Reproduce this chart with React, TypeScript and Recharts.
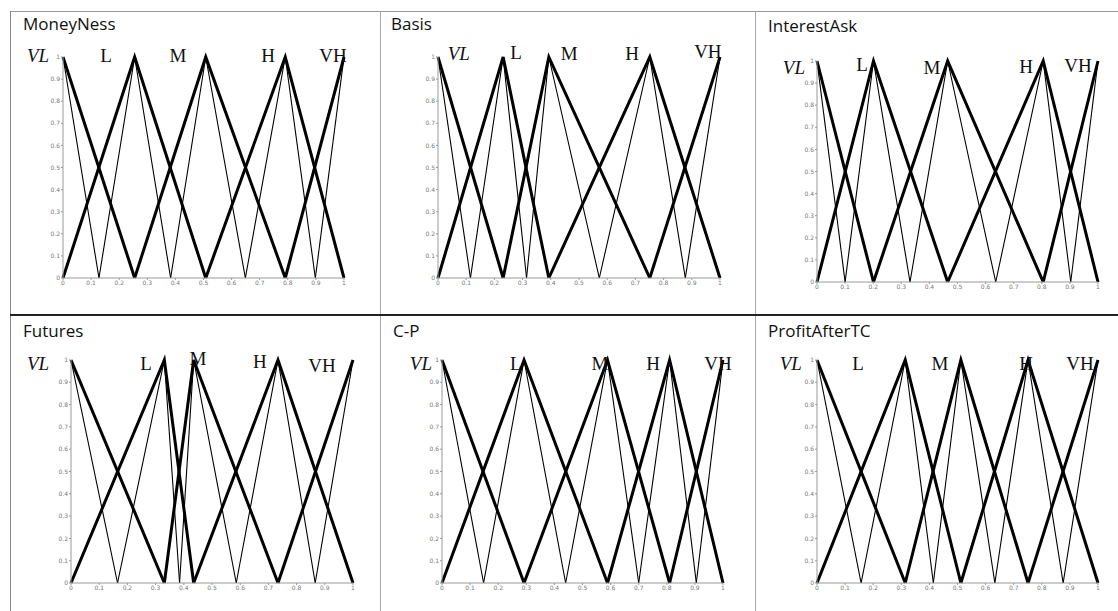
import React from "react";
import { LineChart, Line, XAxis, YAxis } from "recharts";

// ---- data ----
const titles = ["MoneyNess", "Basis", "InterestAsk", "Futures", "C-P", "ProfitAfterTC"];
const termLabels = ["VL", "L", "M", "H", "VH"];
// peak positions of the wide (thick) triangles: VL, L, M, H, VH
const peaksMoneyNess = [0, 0.255, 0.508, 0.791, 1];
const peaksBasis = [0, 0.231, 0.393, 0.751, 1];
const peaksInterestAsk = [0, 0.201, 0.465, 0.805, 1];
const peaksFutures = [0, 0.331, 0.435, 0.734, 1];
const peaksCP = [0, 0.292, 0.589, 0.81, 1];
const peaksProfit = [0, 0.314, 0.512, 0.751, 1];
// feet of the narrow (thin) triangles
const feetMoneyNess = [0.128, 0.383, 0.649, 0.898];
const feetBasis = [0.115, 0.314, 0.572, 0.877];
const feetInterestAsk = [0.1, 0.331, 0.636, 0.903];
const feetFutures = [0.165, 0.385, 0.586, 0.866];
const feetCP = [0.148, 0.44, 0.7, 0.905];
const feetProfit = [0.157, 0.414, 0.633, 0.876];
const xTicks = [0, 0.1, 0.2, 0.3, 0.4, 0.5, 0.6, 0.7, 0.8, 0.9, 1];
const yTicks = [0, 0.1, 0.2, 0.3, 0.4, 0.5, 0.6, 0.7, 0.8, 0.9, 1];

const allPeaks = [peaksMoneyNess, peaksBasis, peaksInterestAsk, peaksFutures, peaksCP, peaksProfit];
const allFeet = [feetMoneyNess, feetBasis, feetInterestAsk, feetFutures, feetCP, feetProfit];

// ---- layout ----
const plotBoxes = [
  { x: 63, y: 57, w: 281, h: 221 },
  { x: 438, y: 57, w: 282, h: 221 },
  { x: 817, y: 61, w: 281, h: 221 },
  { x: 71, y: 360, w: 282, h: 223 },
  { x: 442, y: 360, w: 281, h: 223 },
  { x: 817, y: 360, w: 281, h: 223 },
];
const titlePos = [
  { x: 23, capTop: 18 },
  { x: 391, capTop: 18 },
  { x: 768, capTop: 20 },
  { x: 23, capTop: 325 },
  { x: 393, capTop: 325 },
  { x: 768, capTop: 325 },
];
const labelFrac = [
  [-0.089, 0.153, 0.409, 0.73, 0.961],
  [0.074, 0.277, 0.465, 0.688, 0.957],
  [-0.082, 0.16, 0.409, 0.744, 0.929],
  [-0.117, 0.266, 0.45, 0.67, 0.89],
  [-0.075, 0.263, 0.562, 0.751, 0.982],
  [-0.093, 0.146, 0.438, 0.744, 0.936],
];
const labelCapTop = [
  [49, 49, 49, 49, 49],
  [47, 46, 47, 47, 45],
  [61, 58, 61, 60, 59],
  [357, 357, 352, 355, 359],
  [357, 357, 357, 357, 357],
  [357, 357, 357, 357, 357],
];

type Pt = { x: number; y: number };

function buildSeries(p: number[], f: number[]) {
  const thick: Pt[][] = [
    [{ x: p[0], y: 1 }, { x: p[1], y: 0 }],
    [{ x: p[0], y: 0 }, { x: p[1], y: 1 }, { x: p[2], y: 0 }],
    [{ x: p[1], y: 0 }, { x: p[2], y: 1 }, { x: p[3], y: 0 }],
    [{ x: p[2], y: 0 }, { x: p[3], y: 1 }, { x: p[4], y: 0 }],
    [{ x: p[3], y: 0 }, { x: p[4], y: 1 }],
  ];
  const thin: Pt[][] = [
    [{ x: p[0], y: 1 }, { x: f[0], y: 0 }],
    [{ x: f[0], y: 0 }, { x: p[1], y: 1 }, { x: f[1], y: 0 }],
    [{ x: f[1], y: 0 }, { x: p[2], y: 1 }, { x: f[2], y: 0 }],
    [{ x: f[2], y: 0 }, { x: p[3], y: 1 }, { x: f[3], y: 0 }],
    [{ x: f[3], y: 0 }, { x: p[4], y: 1 }],
  ];
  return { thick, thin };
}

const ML = 10, YW = 20, MT = 10, MB = 5, XH = 15, MR = 10;

function Panel({ i }: { i: number }) {
  const box = plotBoxes[i];
  const { thick, thin } = buildSeries(allPeaks[i], allFeet[i]);
  const width = box.w + ML + YW + MR;
  const height = box.h + MT + MB + XH;
  const tickStyle = { fontSize: 6, fill: "#777", fontFamily: "DejaVu Sans" };
  return (
    <div style={{ position: "absolute", left: box.x - ML - YW, top: box.y - MT }}>
      <LineChart width={width} height={height} margin={{ top: MT, right: MR, left: ML, bottom: MB }}>
        <XAxis
          type="number"
          dataKey="x"
          domain={[0, 1]}
          ticks={xTicks}
          height={XH}
          tick={tickStyle}
          tickSize={2}
          tickMargin={1}
          axisLine={{ stroke: "#999", strokeWidth: 1 }}
          tickLine={{ stroke: "#999" }}
          allowDecimals
          interval={0}
        />
        <YAxis
          type="number"
          dataKey="y"
          domain={[0, 1]}
          ticks={yTicks}
          width={YW}
          tick={tickStyle}
          tickSize={2}
          tickMargin={1}
          axisLine={{ stroke: "#999", strokeWidth: 1 }}
          tickLine={{ stroke: "#999" }}
          interval={0}
        />
        {thin.map((d, k) => (
          <Line
            key={"thin" + k}
            data={d}
            dataKey="y"
            type="linear"
            stroke="#000"
            strokeWidth={1.1}
            dot={false}
            activeDot={false}
            isAnimationActive={false}
          />
        ))}
        {thick.map((d, k) => (
          <Line
            key={"thick" + k}
            data={d}
            dataKey="y"
            type="linear"
            stroke="#000"
            strokeWidth={3}
            dot={false}
            activeDot={false}
            isAnimationActive={false}
          />
        ))}
      </LineChart>
    </div>
  );
}

export default function App() {
  return (
    <div style={{ position: "fixed", left: 0, top: 0, width: 1118, height: 611, background: "#fff", overflow: "hidden" }}>
      {/* table borders */}
      <div style={{ position: "absolute", left: 10, top: 11, width: 1108, height: 1, background: "#9a9a9a" }} />
      <div style={{ position: "absolute", left: 10, top: 11, width: 1, height: 600, background: "#888" }} />
      <div style={{ position: "absolute", left: 380, top: 11, width: 1, height: 600, background: "#aaa" }} />
      <div style={{ position: "absolute", left: 755, top: 11, width: 1, height: 600, background: "#aaa" }} />
      <div style={{ position: "absolute", left: 10, top: 314, width: 1108, height: 2, background: "#222" }} />
      {titles.map((t, i) => (
        <div
          key={t}
          style={{
            position: "absolute",
            left: titlePos[i].x,
            top: titlePos[i].capTop - 3,
            fontFamily: "'Open Sans', sans-serif",
            fontSize: 17,
            lineHeight: "17px",
            color: "#111",
            whiteSpace: "nowrap",
          }}
        >
          {t}
        </div>
      ))}
      {plotBoxes.map((_, i) => (
        <Panel key={i} i={i} />
      ))}
      {plotBoxes.map((box, i) =>
        termLabels.map((lab, k) => (
          <div
            key={i + "-" + lab}
            style={{
              position: "absolute",
              left: box.x + labelFrac[i][k] * box.w,
              top: labelCapTop[i][k] - 3.5,
              transform: "translateX(-50%)",
              fontFamily: "'Liberation Serif', serif",
              fontStyle: k === 0 ? "italic" : "normal",
              fontSize: 19,
              lineHeight: "19px",
              color: "#111",
              whiteSpace: "nowrap",
            }}
          >
            {lab}
          </div>
        ))
      )}
    </div>
  );
}
